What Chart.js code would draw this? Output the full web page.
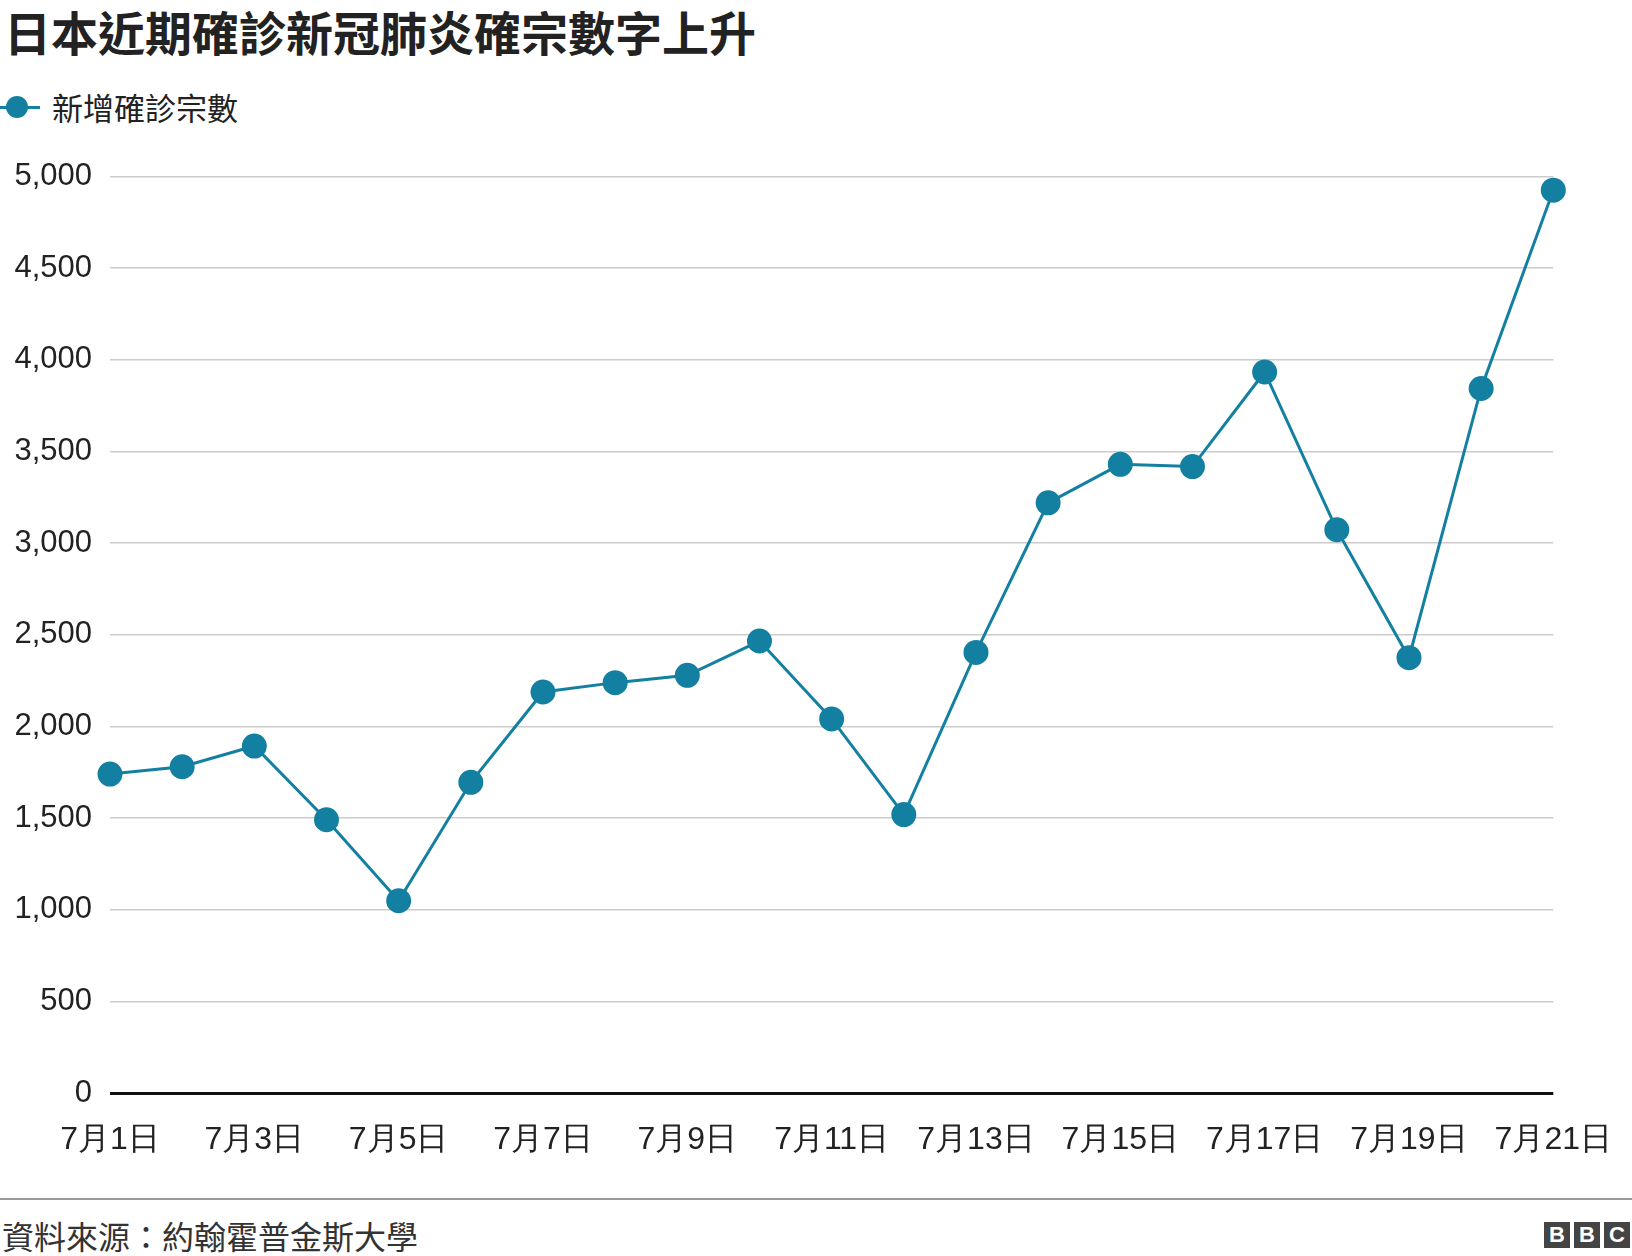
<!DOCTYPE html>
<html><head><meta charset="utf-8">
<script src="https://cdn.jsdelivr.net/npm/chart.js@4"></script>
<style>
body{margin:0;width:1632px;height:1256px;background:#fff;font-family:"Noto Sans CJK TC",Arial,sans-serif;position:relative;overflow:hidden}
#title{position:absolute;left:4px;top:-4px;font-size:47px;font-weight:bold;color:#222}
#legend{position:absolute;left:0;top:84px;font-size:31px;color:#222;display:flex;align-items:center}
#legend .m{position:relative;width:44px;height:30px;margin-right:8px}
#legend .m:before{content:"";position:absolute;left:0;top:14px;width:40px;height:3px;background:#1380A1}
#legend .m:after{content:"";position:absolute;left:6px;top:4px;width:22px;height:22px;border-radius:50%;background:#1380A1}
#wrap{position:absolute;left:0;top:140px;width:1632px;height:1050px}
#foot{position:absolute;left:0;top:1198px;width:1632px;border-top:2px solid #999}
#src{position:absolute;left:2px;top:1212px;font-size:32px;color:#333}
#bbc{position:absolute;right:2px;top:1222px;display:flex;gap:4px}
#bbc span{width:26px;height:26px;background:#444;color:#fff;font:bold 22px Arial;display:flex;align-items:center;justify-content:center}
</style></head><body>
<div id="title">日本近期確診新冠肺炎確宗數字上升</div>
<div id="legend"><div class="m"></div>新增確診宗數</div>
<div id="wrap"><canvas id="c"></canvas></div>
<div id="foot"></div>
<div id="src">資料來源：約翰霍普金斯大學</div>
<div id="bbc"><span>B</span><span>B</span><span>C</span></div>
<script>
const days = Array.from({length:21},(_, i)=>`7月${i+1}日`);
const cases = [1740,1780,1893,1491,1049,1695,2188,2239,2279,2466,2041,1519,2404,3220,3430,3418,3934,3073,2375,3844,4926];
const yTicks = [0,500,1000,1500,2000,2500,3000,3500,4000,4500,5000];
new Chart(document.getElementById('c'),{
 type:'line',
 data:{labels:days,datasets:[{data:cases,borderColor:'#1380A1',backgroundColor:'#1380A1',borderWidth:3,pointRadius:11,pointHoverRadius:11,tension:0}]},
 options:{responsive:true,maintainAspectRatio:false,animation:false,
  layout:{padding:{top:35,right:40,left:0,bottom:0}},
  plugins:{legend:{display:false},tooltip:{enabled:false}},
  scales:{
   x:{grid:{display:false},border:{display:false},
      ticks:{autoSkip:false,maxRotation:0,padding:20,color:'#222',font:{size:32,family:'Arial'},
        callback:(v,i)=> i%2===0?days[i]:''},
      afterFit:s=>{s.height=97}},
   y:{min:0,max:5000,afterBuildTicks:s=>{s.ticks=yTicks.map(v=>({value:v}))},
      border:{display:false},
      grid:{color:c=>c.tick.value===0?'#111':'#ccc',lineWidth:c=>c.tick.value===0?3:1.5,drawTicks:false},
      ticks:{padding:18,color:'#222',font:{size:31,family:'Arial'},callback:v=>v.toLocaleString('en-US')},
      afterFit:s=>{s.width=110}}
  }}
});
</script></body></html>
